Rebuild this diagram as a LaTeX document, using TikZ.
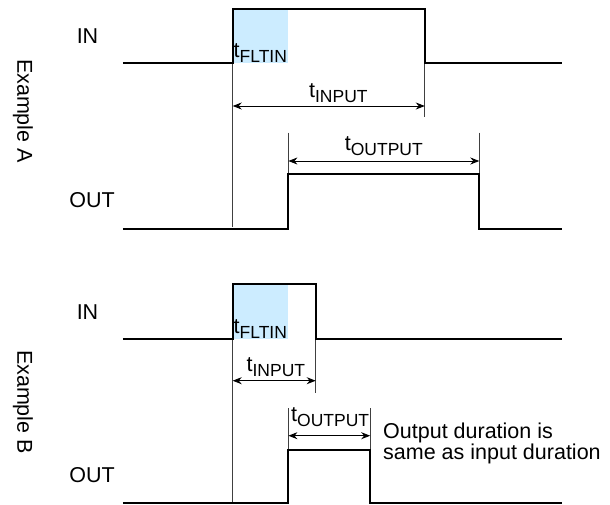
\documentclass[tikz,border=0pt]{standalone}
\usepackage{fontspec}
\setmainfont{Liberation Sans}
\usetikzlibrary{arrows.meta}
\definecolor{fltblue}{RGB}{204,236,255}
\newcommand{\tsub}[1]{t\raisebox{-5pt}{\fontsize{17.5}{17.5}\selectfont #1}}

\begin{document}
\begin{tikzpicture}[x=1pt, y=-1pt, >={Stealth[length=9pt,width=7pt]},
    font=\fontsize{21.5}{21.5}\selectfont,
    signal/.style={line width=2pt, line join=miter},
    guide/.style={line width=0.8pt, black!75},
    span/.style={<->, line width=0.9pt},
    lbl/.style={inner sep=0pt}]
    \useasboundingbox (0,0) rectangle (610,504);

    % Example A
    \node[lbl, rotate=-90] (exA) at (23,111) {Example A};
    \node[lbl] (inA) at (87.5,36.5) {IN};
    \node[lbl] (outA) at (92,200.5) {OUT};

    \fill[fltblue] (232.7,9) rectangle (287.6,63);
    \node[lbl, anchor=base west] (fltA) at (233.5,57) {\tsub{FLTIN}};

    \draw[guide] (232.7,63) -- (232.7,226.7);
    \draw[guide] (424.8,63) -- (424.8,117.3);
    \draw[guide] (288.4,132.7) -- (288.4,174);
    \draw[guide] (479.3,132.7) -- (479.3,174);

    \draw[signal] (122.8,63) -- (232.7,63) -- (232.7,9) -- (424.8,9)
        -- (424.8,63) -- (562.4,63);
    \draw[signal] (122.8,229.3) -- (288.4,229.3) -- (288.4,174) -- (479.3,174)
        -- (479.3,229.3) -- (562.4,229.3);

    \coordinate (inStartA) at (232.7,106);
    \coordinate (inEndA) at (424.8,106);
    \draw[span] (inStartA) -- (inEndA)
        node[lbl, pos=0.55, above=3pt] (tinA) {\tsub{INPUT}};
    \coordinate (outStartA) at (288.4,161);
    \coordinate (outEndA) at (479.3,161);
    \draw[span] (outStartA) -- (outEndA)
        node[lbl, pos=0.5, above=5pt] (toutA) {\tsub{OUTPUT}};

    % Example B
    \node[lbl, rotate=-90] (exB) at (23,402) {Example B};
    \node[lbl] (inB) at (87.5,312.3) {IN};
    \node[lbl] (outB) at (92,475) {OUT};

    \fill[fltblue] (232.7,284) rectangle (287.6,339);
    \node[lbl, anchor=base west] (fltB) at (233.5,333) {\tsub{FLTIN}};

    \draw[guide] (232.7,339) -- (232.7,504);
    \draw[guide] (315.7,339) -- (315.7,393.3);
    \draw[guide] (288.4,408.3) -- (288.4,450);
    \draw[guide] (370.2,408.3) -- (370.2,450);

    \draw[signal] (122.8,339) -- (232.7,339) -- (232.7,284) -- (315.7,284)
        -- (315.7,339) -- (562.4,339);
    \draw[signal] (122.8,503) -- (288.4,503) -- (288.4,450) -- (370.2,450)
        -- (370.2,503) -- (562.4,503);

    \coordinate (inStartB) at (232.7,380.7);
    \coordinate (inEndB) at (315.7,380.7);
    \draw[span] (inStartB) -- (inEndB)
        node[lbl, pos=0.52, above=4pt] (tinB) {\tsub{INPUT}};
    \coordinate (outStartB) at (288.4,435.7);
    \coordinate (outEndB) at (370.2,435.7);
    \draw[span] (outStartB) -- (outEndB)
        node[lbl, pos=0.51, above=9pt] (toutB) {\tsub{OUTPUT}};

    \node[lbl, anchor=west, align=left] (note) at (383,443.4)
        {Output duration is\\same as input duration};
\end{tikzpicture}
\end{document}
